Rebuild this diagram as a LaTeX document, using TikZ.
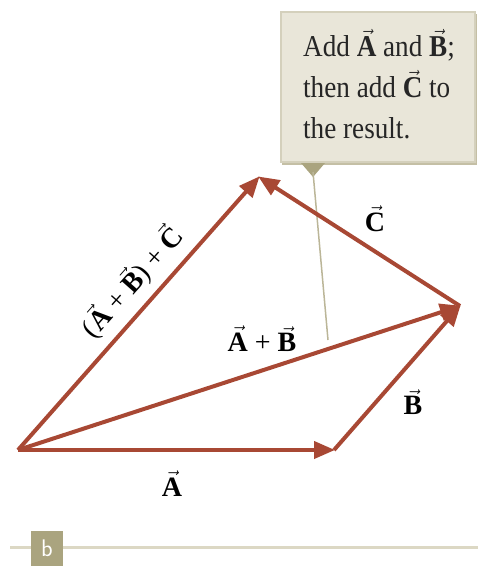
\documentclass[tikz,border=0pt]{standalone}
\usepackage{fontspec}
\setmainfont{Liberation Serif}
\usetikzlibrary{arrows.meta}
\definecolor{vecred}{RGB}{168,72,52}
\definecolor{boxfill}{RGB}{233,230,217}
\definecolor{boxedge}{RGB}{212,208,188}
\definecolor{pointer}{RGB}{170,164,127}
\definecolor{rule}{RGB}{220,216,196}
\newcommand{\vv}[1]{\ensuremath{\vec{\mathbf{#1}}}}
\tikzset{
  vecarrow/.style={draw=vecred, line width=4pt, -{Triangle[length=21pt,width=17pt]}, shorten >=-1pt},
  lbl/.style={font=\fontsize{28}{30}\selectfont, inner sep=0pt},
  boxtxt/.style={font=\fontsize{28}{30}\selectfont, inner sep=0pt, anchor=base west, text=black!85, xscale=0.97, yscale=1.08}
}
\begin{document}
\begin{tikzpicture}[x=1pt,y=-1pt]
\useasboundingbox (0,0) rectangle (478,567);
% callout
\fill[pointer!70] (282,14) rectangle (477,165);
\draw[boxedge, line width=2.5pt, fill=boxfill] (281,12) rectangle (475,162);
\fill[pointer] (301,163) -- (325,163) -- (313,177) -- cycle;
\coordinate (ptr) at (313,172);
\coordinate (ptrend) at (328,340);
\draw[pointer!80, line width=1.5pt] (ptr) -- (ptrend);
\node[boxtxt] (t1) at (303,57) {Add \vv{A} and \vv{B};};
\node[boxtxt] (t2) at (303,98) {then add \vv{C} to};
\node[boxtxt] (t3) at (303,139) {the result.};
% vectors
\coordinate (O) at (18,450);
\coordinate (P) at (334,450);
\coordinate (Q) at (460,306);
\coordinate (R) at (259,177);
\draw[vecarrow] (O) -- (P);
\draw[vecarrow] (P) -- (Q);
\draw[vecarrow] (O) -- (Q);
\draw[vecarrow] (Q) -- (R);
\draw[vecarrow] (O) -- (R);
% labels
\node[lbl] (la) at (172,484) {\vv{A}};
\node[lbl] (lb) at (413,402) {\vv{B}};
\node[lbl] (lc) at (375,219) {\vv{C}};
\node[lbl] (lab) at (262,339) {\vv{A} + \vv{B}};
\node[lbl, rotate=48.5] (labc) at (132,282) {(\vv{A} + \vv{B}) + \vv{C}};
% bottom rule
\coordinate (r1) at (10,547);
\coordinate (r2) at (478,547);
\draw[rule, line width=3pt] (r1) -- (r2);
\node[fill=pointer, minimum width=32pt, minimum height=35pt, inner sep=0pt, text=white, font=\sffamily\fontsize{24}{24}\selectfont] (tag) at (47,548) {b};
\end{tikzpicture}
\end{document}
